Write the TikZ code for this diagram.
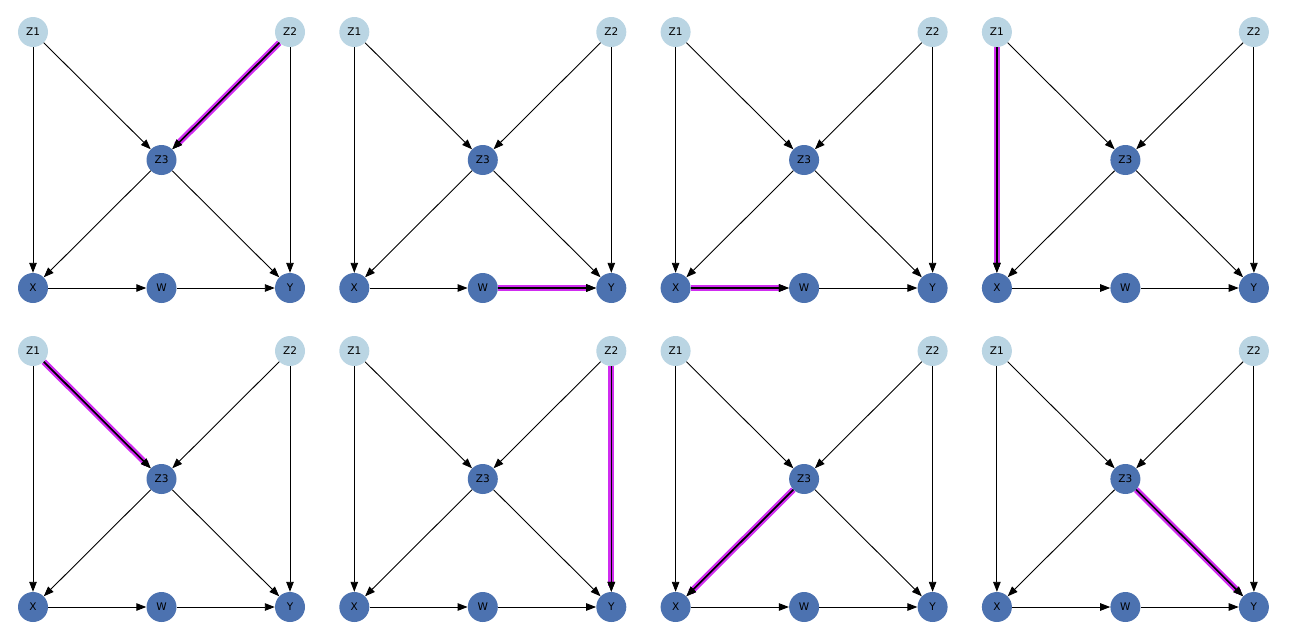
\documentclass[tikz,border=0pt]{standalone}
\usepackage{fontspec}
\setmainfont{DejaVu Sans}
\usepackage{xcolor}
\usepackage{tikz}
\usetikzlibrary{arrows.meta}
\definecolor{nodelight}{HTML}{BAD5E3}
\definecolor{nodedark}{HTML}{4C72B0}
\definecolor{hlpink}{HTML}{D02CF0}
\tikzset{
  obs/.style  ={circle, fill=nodedark, minimum size=30pt, inner sep=0pt,
                font=\fontsize{10.5}{11}\selectfont},
  lat/.style  ={circle, fill=nodelight, minimum size=30pt, inner sep=0pt,
                font=\fontsize{10.5}{11}\selectfont},
  edge/.style ={-{Triangle[length=10pt, width=7.5pt]}, line width=0.9pt, draw=black},
  hlband/.style ={line width=6.2pt, draw=hlpink, shorten >=6pt},
  hledge/.style ={-{Triangle[length=10pt, width=7.5pt]}, line width=1.6pt, draw=black},
}

\begin{document}
\begin{tikzpicture}[x=1pt, y=1pt]

  \useasboundingbox (0,0) rectangle (1291,-643);

  % one panel per highlighted edge
  \foreach \i/\col/\row/\from/\to in {1/0/0/z2/z3, 2/1/0/w/y, 3/2/0/x/w, 4/3/0/z1/x,
                                     5/0/1/z1/z3, 6/1/1/z2/y, 7/2/1/z3/x, 8/3/1/z3/y}
  {
    \begin{scope}[shift={(\col*321.3, -\row*319)}]
      \node[lat] (z1-\i) at (33,-32)    {Z1};
      \node[lat] (z2-\i) at (290,-32)   {Z2};
      \node[obs] (z3-\i) at (161.5,-160) {Z3};
      \node[obs] (x-\i)  at (33,-288)   {X};
      \node[obs] (w-\i)  at (161.5,-288) {W};
      \node[obs] (y-\i)  at (290,-288)  {Y};

      \draw[hlband] (\from-\i) -- (\to-\i);

      \draw[edge] (z1-\i) -- (x-\i);
      \draw[edge] (z1-\i) -- (z3-\i);
      \draw[edge] (z2-\i) -- (z3-\i);
      \draw[edge] (z2-\i) -- (y-\i);
      \draw[edge] (z3-\i) -- (x-\i);
      \draw[edge] (z3-\i) -- (y-\i);
      \draw[edge] (x-\i)  -- (w-\i);
      \draw[edge] (w-\i)  -- (y-\i);

      \draw[hledge] (\from-\i) -- (\to-\i);
    \end{scope}
  }

\end{tikzpicture}
\end{document}
